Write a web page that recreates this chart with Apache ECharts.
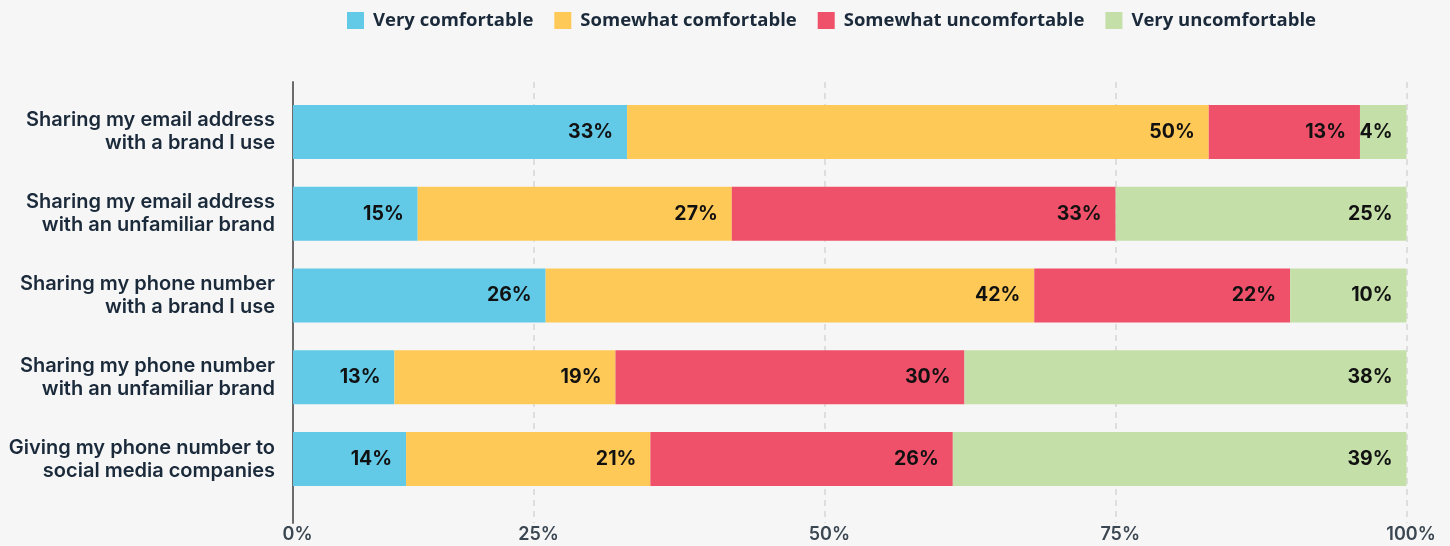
<!DOCTYPE html>
<html>
<head>
<meta charset="utf-8">
<style>
  html, body { margin: 0; padding: 0; background: #f6f6f6; }
  #chart { width: 1450px; height: 546px; }
</style>
<script src="https://cdn.jsdelivr.net/npm/echarts@6/dist/echarts.min.js"></script>
</head>
<body>
<div id="chart"></div>
<script>
const categories = [
  'Sharing my email address\nwith a brand I use',
  'Sharing my email address\nwith an unfamiliar brand',
  'Sharing my phone number\nwith a brand I use',
  'Sharing my phone number\nwith an unfamiliar brand',
  'Giving my phone number to\nsocial media companies'
];
const seriesNames = ['Very comfortable', 'Somewhat comfortable', 'Somewhat uncomfortable', 'Very uncomfortable'];
const veryComfortable = [33, 15, 26, 13, 14];
const somewhatComfortable = [50, 27, 42, 19, 21];
const somewhatUncomfortable = [13, 33, 22, 30, 26];
const veryUncomfortable = [4, 25, 10, 38, 39];
// the plotted axis begins slightly after 0 (the reference clips the first segment)
const axisStart = 4.28;
const axisEnd = 100;
const tickValues = [axisStart, 25, 50, 75, 100];
const tickLabels = ['0%', '25%', '50%', '75%', '100%'];

const colors = ['#62cae7', '#ffc957', '#f0516a', '#c4dfa8'];
const seriesData = [veryComfortable, somewhatComfortable, somewhatUncomfortable, veryUncomfortable];

const chart = echarts.init(document.getElementById('chart'), null, { renderer: 'canvas' });

const option = {
  backgroundColor: '#f6f6f6',
  animation: false,
  legend: {
    data: seriesNames,
    left: 347,
    top: 11,
    padding: 0,
    itemWidth: 17,
    itemHeight: 17,
    itemGap: 21,
    icon: 'rect',
    textStyle: {
      fontFamily: 'Open Sans',
      fontWeight: 700,
      fontSize: 18.5,
      color: '#1b2a3a',
      padding: [0, 0, 0, 4]
    }
  },
  grid: [
    { left: 293, right: 43.5, top: 82, bottom: 23, containLabel: false, outerBoundsMode: 'none' },
    { left: 293, right: 43.5, top: 91, bottom: 46, containLabel: false, outerBoundsMode: 'none' }
  ],
  xAxis: [
    {
      gridIndex: 0,
      type: 'value',
      min: axisStart,
      max: axisEnd,
      axisLine: { show: false },
      axisTick: { show: false, customValues: tickValues },
      axisLabel: {
        customValues: tickValues,
        formatter: function (v) {
          const i = tickValues.indexOf(v);
          return i >= 0 ? tickLabels[i] : '';
        },
        fontFamily: 'Inter',
        fontWeight: 600,
        fontSize: 18,
        color: '#3a4651',
        margin: 3,
        padding: [0, 0, 0, 9]
      },
      splitLine: {
        show: true,
        lineStyle: { color: '#d6d6d6', width: 1.5, type: [6, 5] }
      }
    },
    {
      gridIndex: 1,
      type: 'value',
      min: axisStart,
      max: axisEnd,
      show: false,
      splitLine: { show: false }
    }
  ],
  yAxis: [
    {
      gridIndex: 0,
      type: 'category',
      data: categories,
      inverse: true,
      axisLine: { show: true, lineStyle: { color: '#6b6b6b', width: 2 } },
      axisTick: { show: false },
      axisLabel: { show: false },
      splitLine: { show: false }
    },
    {
      gridIndex: 1,
      type: 'category',
      data: categories,
      inverse: true,
      axisLine: { show: false },
      axisTick: { show: false },
      axisLabel: {
        fontFamily: 'Inter',
        fontWeight: 600,
        fontSize: 20,
        lineHeight: 23,
        color: '#1b2a3a',
        align: 'right',
        margin: 18,
        padding: [5, 0, 0, 0]
      },
      splitLine: { show: false }
    }
  ],
  series: seriesNames.map(function (name, i) {
    return {
      name: name,
      type: 'bar',
      stack: 'total',
      xAxisIndex: 1,
      yAxisIndex: 1,
      barWidth: 54,
      data: seriesData[i],
      itemStyle: { color: colors[i] },
      label: {
        show: true,
        position: 'insideRight',
        distance: 14,
        formatter: '{c}%',
        fontFamily: 'Inter',
        fontWeight: 700,
        fontSize: 19.5,
        color: '#111111'
      }
    };
  })
};

chart.setOption(option);
</script>
</body>
</html>
